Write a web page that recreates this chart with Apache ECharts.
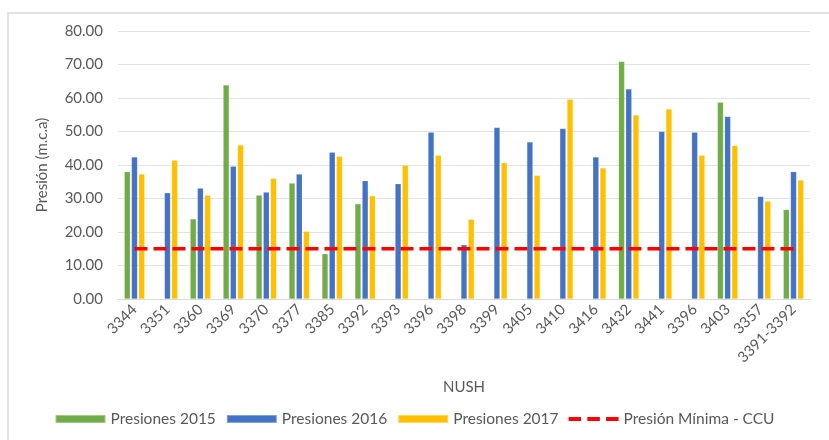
<!DOCTYPE html>
<html>
<head>
<meta charset="utf-8">
<script src="https://cdn.jsdelivr.net/npm/echarts@6/dist/echarts.min.js"></script>
<style>
  html, body { margin: 0; padding: 0; background: #fff; }
  #main { width: 829px; height: 440px; }
</style>
</head>
<body>
<div id="main"></div>
<script>
var categories = ['3344', '3351', '3360', '3369', '3370', '3377', '3385', '3392', '3393', '3396', '3398',
  '3399', '3405', '3410', '3416', '3432', '3441', '3396', '3403', '3357', '3391-3392'];

var presiones2015 = [38.0, null, 23.9, 63.9, 31.0, 34.6, 13.5, 28.4, null, null, null,
  null, null, null, null, 70.9, null, null, 58.7, null, 26.7];
var presiones2016 = [42.4, 31.7, 33.1, 39.6, 31.9, 37.3, 43.8, 35.3, 34.4, 49.8, 16.2,
  51.2, 46.9, 50.9, 42.4, 62.7, 50.0, 49.8, 54.5, 30.6, 38.0];
var presiones2017 = [37.3, 41.4, 31.0, 46.0, 36.0, 20.2, 42.6, 30.8, 39.9, 42.9, 23.8,
  40.7, 36.9, 59.6, 39.1, 54.9, 56.7, 42.9, 45.8, 29.2, 35.5];
var presionMinima = [15, 15, 15, 15, 15, 15, 15, 15, 15, 15, 15,
  15, 15, 15, 15, 15, 15, 15, 15, 15, 15];

var myChart = echarts.init(document.getElementById('main'));

var font = 'Lato, "Open Sans", sans-serif';
var textColor = '#595959';

function barSeries(name, data, color) {
  return {
    name: name,
    type: 'bar',
    data: data,
    barWidth: 6,
    barGap: '20%',
    itemStyle: { color: color, borderColor: 'rgba(255,255,255,0.35)', borderWidth: 0.5 }
  };
}

option = {
  backgroundColor: '#fff',
  animation: false,
  textStyle: { fontFamily: font },
  graphic: [{
    type: 'rect',
    shape: { x: 8, y: 13, width: 900, height: 500 },
    style: { fill: 'none', stroke: '#d9d9d9', lineWidth: 1.5 },
    silent: true
  }],
  grid: {
    left: 118,
    right: 19,
    top: 31,
    bottom: 141
  },
  legend: {
    bottom: 8,
    left: 'center',
    itemWidth: 50,
    itemHeight: 8,
    itemGap: 10,
    icon: 'rect',
    textStyle: { color: textColor, fontSize: 15.5, fontFamily: font },
    data: [
      { name: 'Presiones 2015', icon: 'rect' },
      { name: 'Presiones 2016', icon: 'rect' },
      { name: 'Presiones 2017', icon: 'rect' },
      { name: 'Presión Mínima - CCU', icon: 'path://M0,0 L12,0 L12,4 L0,4 Z M18,0 L30,0 L30,4 L18,4 Z M36,0 L48,0 L48,4 L36,4 Z', itemStyle: { color: '#ff0000' } }
    ]
  },
  xAxis: {
    type: 'category',
    data: categories,
    name: 'NUSH',
    nameLocation: 'middle',
    nameGap: 81,
    nameTextStyle: { color: textColor, fontSize: 15, fontFamily: font },
    axisLine: { lineStyle: { color: '#d9d9d9', width: 1 } },
    axisTick: { show: false },
    axisLabel: { rotate: 45, color: textColor, fontSize: 15, fontFamily: font, interval: 0, margin: 8 }
  },
  yAxis: {
    type: 'value',
    min: 0,
    max: 80,
    interval: 10,
    name: 'Presión (m.c.a)',
    nameLocation: 'middle',
    nameGap: 68,
    nameTextStyle: { color: textColor, fontSize: 15, fontFamily: font },
    axisLine: { show: false },
    axisTick: { show: false },
    axisLabel: {
      color: textColor, fontSize: 15, fontFamily: font, margin: 15,
      formatter: function (v) { return v.toFixed(2); }
    },
    splitLine: { lineStyle: { color: '#e3e3e3', width: 1 } }
  },
  series: [
    barSeries('Presiones 2015', presiones2015, '#70ad47'),
    barSeries('Presiones 2016', presiones2016, '#4472c4'),
    barSeries('Presiones 2017', presiones2017, '#ffc000'),
    {
      name: 'Presión Mínima - CCU',
      type: 'line',
      data: presionMinima,
      symbol: 'none',
      color: '#ff0000',
      lineStyle: { color: '#ff0000', width: 3.5, type: [13, 6] },
      z: 5
    }
  ]
};

myChart.setOption(option);
</script>
</body>
</html>
